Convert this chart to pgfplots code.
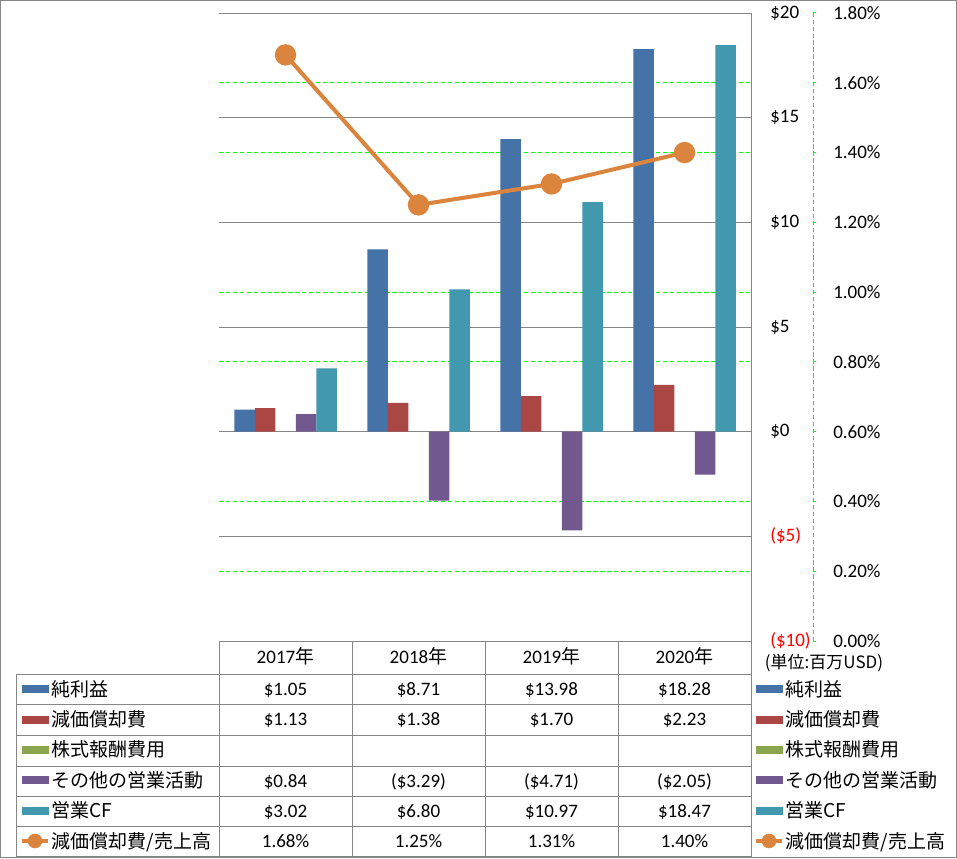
\documentclass[border=0pt]{standalone}
\usepackage{fontspec}
\setmainfont{Carlito}
\newfontfamily\jp{Noto Sans CJK JP}
\usepackage{pgfplots}
\pgfplotsset{compat=1.18}
\definecolor{cA}{HTML}{4572A7}
\definecolor{cB}{HTML}{AA4643}
\definecolor{cC}{HTML}{89A54E}
\definecolor{cD}{HTML}{71588F}
\definecolor{cE}{HTML}{4198AF}
\definecolor{cF}{HTML}{DB843D}
\definecolor{lgray}{HTML}{868686}
\definecolor{ggreen}{HTML}{00FF00}
\newcommand\fs{\fontsize{14.25pt}{17pt}\selectfont}
\pgfplotsset{
  barleg/.style={legend image code/.code={\fill[#1] (0pt,-2.625pt) rectangle (19.5pt,2.625pt);\path (22pt,0pt);}},
  lineleg/.style={legend image code/.code={\draw[#1,line width=3pt] (0pt,0pt)--(19.5pt,0pt);\fill[#1] (9.75pt,0pt) circle (5.25pt);\path (22pt,0pt);}},
  mylegend/.style={legend style={at={(axis description cs:#1,-0.0522)},anchor=north west,draw=none,fill=none,inner sep=0pt,outer sep=0pt,row sep=0pt,column sep=0pt,nodes={anchor=west,inner sep=0pt,outer sep=0pt,text height=16.8pt,text depth=6pt,font=\fs\jp}}},
  base/.style={at={(164.25pt,162.75pt)},anchor=south west,height=471pt,scale only axis,xmin=-0.5}
}
\begin{document}
\begin{tikzpicture}[font=\fs]
\path[use as bounding box] (0pt,0pt) rectangle (717.75pt,643.5pt);
\fill[white] (0pt,0pt) rectangle (717.75pt,643.5pt);
% secondary gridlines (green) + table legend
\begin{axis}[base, width=399pt, xmax=3.5, ymin=0, ymax=1.8,
  xtick=\empty, ytick={0.2,0.4,0.8,1.0,1.4,1.6}, yticklabels={}, major tick length=0pt,
  ymajorgrids, major grid style={color=ggreen,dash pattern=on 3.2pt off 2pt,line width=0.75pt},
  axis line style={draw=none}, mylegend=-0.37406]
\addlegendimage{barleg=cA}\addlegendentry{純利益}
\addlegendimage{barleg=cB}\addlegendentry{減価償却費}
\addlegendimage{barleg=cC}\addlegendentry{株式報酬費用}
\addlegendimage{barleg=cD}\addlegendentry{その他の営業活動}
\addlegendimage{barleg=cE}\addlegendentry{営業CF}
\addlegendimage{lineleg=cF}\addlegendentry{減価償却費/売上高}
\end{axis}
% bars + right legend
\begin{axis}[base, width=399pt, xmax=3.5, ymin=-10, ymax=20,
  axis x line=none, axis y line*=right,
  y axis line style={-,color=lgray,line width=0.75pt},
  ytick={-10,-5,0,5,10,15,20},
  yticklabels={\textcolor{red}{(\$10)},\textcolor{red}{(\$5)},\$0,\$5,\$10,\$15,\$20},
  major tick length=0pt,
  yticklabel style={anchor=west,inner sep=0pt,xshift=14.25pt,font=\fs},
  ymajorgrids, major grid style={color=lgray,line width=0.75pt},
  mylegend=1.00564]
\addplot[forget plot,ybar,bar width=15.375pt,bar shift=-30.75pt,fill=cA,draw=none] coordinates {(0,1.05)(1,8.71)(2,13.98)(3,18.28)};
\addplot[forget plot,ybar,bar width=15.375pt,bar shift=-15.375pt,fill=cB,draw=none] coordinates {(0,1.13)(1,1.38)(2,1.70)(3,2.23)};
\addplot[forget plot,ybar,bar width=15.375pt,bar shift=15.375pt,fill=cD,draw=none] coordinates {(0,0.84)(1,-3.29)(2,-4.71)(3,-2.05)};
\addplot[forget plot,ybar,bar width=15.375pt,bar shift=30.75pt,fill=cE,draw=none] coordinates {(0,3.02)(1,6.80)(2,10.97)(3,18.47)};
\addlegendimage{barleg=cA}\addlegendentry{純利益}
\addlegendimage{barleg=cB}\addlegendentry{減価償却費}
\addlegendimage{barleg=cC}\addlegendentry{株式報酬費用}
\addlegendimage{barleg=cD}\addlegendentry{その他の営業活動}
\addlegendimage{barleg=cE}\addlegendentry{営業CF}
\addlegendimage{lineleg=cF}\addlegendentry{減価償却費/売上高}
\end{axis}
% percent line
\begin{axis}[base, width=445.5pt, xmax=3.96617, ymin=0, ymax=1.8,
  axis x line=none, axis y line*=right,
  y axis line style={-,color=ggreen,dash pattern=on 3.2pt off 2pt,line width=0.75pt},
  ytick={0,0.2,0.4,0.6,0.8,1.0,1.2,1.4,1.6,1.8},
  yticklabels={0.00\%,0.20\%,0.40\%,0.60\%,0.80\%,1.00\%,1.20\%,1.40\%,1.60\%,1.80\%},
  tick align=outside, major tick length=2.25pt,
  ytick style={color=ggreen,solid,line width=0.75pt},
  yticklabel style={anchor=west,inner sep=0pt,xshift=12.75pt,font=\fs},
  clip=false]
\addplot[color=cF,line width=3pt,mark=*,mark size=6.5pt,mark options={fill=cF,draw=none}] coordinates {(0,1.68)(1,1.25)(2,1.31)(3,1.40)};
\end{axis}
\begin{scope}[x=0.75pt,y=0.75pt]
% table grid
\begin{scope}[lgray,line width=0.75pt]
\draw (219,217)--(751,217);
\foreach \y in {184,153.5,123,92,61.5,31.5,1.5} \draw (16,\y)--(751,\y);
\draw (16,184)--(16,1.5);
\foreach \x in {219,352,485,618,751} \draw (\x,217)--(\x,1.5);
\draw (0.5,0.5) rectangle (956.5,857.5);
\end{scope}
% table text
\foreach \x/\t in {285.5/2017,418.5/2018,551.5/2019,684.5/2020} \node[anchor=base,inner sep=0pt] at (\x,195) {\t{\jp 年}};
\foreach \x/\t in {285.5/\$1.05,418.5/\$8.71,551.5/\$13.98,684.5/\$18.28} \node[anchor=base,inner sep=0pt] at (\x,163) {\t};
\foreach \x/\t in {285.5/\$1.13,418.5/\$1.38,551.5/\$1.70,684.5/\$2.23} \node[anchor=base,inner sep=0pt] at (\x,133) {\t};
\foreach \x/\t in {285.5/\$0.84,418.5/(\$3.29),551.5/(\$4.71),684.5/(\$2.05)} \node[anchor=base,inner sep=0pt] at (\x,71) {\t};
\foreach \x/\t in {285.5/\$3.02,418.5/\$6.80,551.5/\$10.97,684.5/\$18.47} \node[anchor=base,inner sep=0pt] at (\x,41) {\t};
\foreach \x/\t in {285.5/1.68\%,418.5/1.25\%,551.5/1.31\%,684.5/1.40\%} \node[anchor=base,inner sep=0pt] at (\x,11) {\t};
\node[font=\jp\fontsize{12.75pt}{15pt}\selectfont,inner sep=0pt] at (824,195) {(単位:百万USD)};
\end{scope}
\end{tikzpicture}
\end{document}
